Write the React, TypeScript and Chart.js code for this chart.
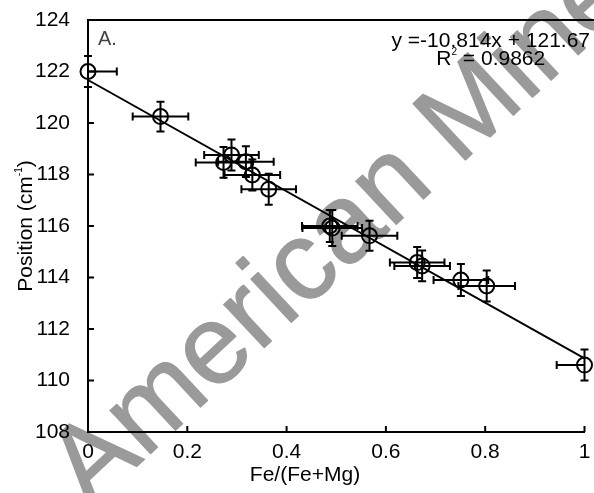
import React, { useEffect, useRef } from "react";
import { Chart, registerables } from "chart.js";

Chart.register(...registerables);

// Fe/(Fe+Mg) composition and band position (cm-1) with their uncertainties
const feRatio = [0, 0.146, 0.273, 0.289, 0.318, 0.331, 0.364, 0.487, 0.492, 0.567, 0.663, 0.673, 0.751, 0.803, 1.0];
const position = [122.0, 120.25, 118.47, 118.76, 118.5, 117.98, 117.43, 116.0, 115.92, 115.62, 114.58, 114.45, 113.9, 113.67, 110.6];
const feErr = [0.058, 0.056, 0.056, 0.055, 0.056, 0.056, 0.055, 0.056, 0.06, 0.056, 0.055, 0.056, 0.055, 0.057, 0.056];
const posErr = [0.6, 0.58, 0.6, 0.6, 0.6, 0.6, 0.6, 0.62, 0.7, 0.58, 0.6, 0.6, 0.62, 0.6, 0.6];

// Linear fit reported on the plot
const fitSlope = -10.814;
const fitIntercept = 121.67;
const fitR2 = "0.9862";

const xTicks = [0, 0.2, 0.4, 0.6, 0.8, 1];
const yTicks = [108, 110, 112, 114, 116, 118, 120, 122, 124];

const FONT = "'Liberation Sans', Arial, sans-serif";

const decorPlugin = {
  id: "decor",
  beforeDraw(chart: any) {
    const ctx = chart.ctx;
    ctx.save();
    ctx.fillStyle = "#ffffff";
    ctx.fillRect(0, 0, chart.width, chart.height);
    // publisher watermark running diagonally across the figure
    ctx.translate(90, 510);
    ctx.rotate((-43 * Math.PI) / 180);
    ctx.fillStyle = "#9a9a9a";
    ctx.strokeStyle = "#9a9a9a";
    ctx.lineWidth = 1.2;
    ctx.lineJoin = "round";
    ctx.font = `112px ${FONT}`;
    ctx.textBaseline = "alphabetic";
    ctx.textAlign = "left";
    ctx.fillText("American Mineralogist", 0, 0);
    ctx.strokeText("American Mineralogist", 0, 0);
    ctx.restore();
  },
  afterDatasetsDraw(chart: any) {
    const ctx = chart.ctx;
    const xs = chart.scales.x;
    const ys = chart.scales.y;
    const area = chart.chartArea;
    ctx.save();
    ctx.strokeStyle = "#000";
    ctx.lineWidth = 2;
    const cap = 4;
    for (let i = 0; i < feRatio.length; i++) {
      const cx = xs.getPixelForValue(feRatio[i]);
      const cy = ys.getPixelForValue(position[i]);
      const x0 = xs.getPixelForValue(feRatio[i] - feErr[i]);
      const x1 = xs.getPixelForValue(feRatio[i] + feErr[i]);
      const y0 = ys.getPixelForValue(position[i] - posErr[i]);
      const y1 = ys.getPixelForValue(position[i] + posErr[i]);
      // vertical bar
      ctx.beginPath();
      ctx.moveTo(cx, y0);
      ctx.lineTo(cx, y1);
      ctx.moveTo(cx - cap, y0);
      ctx.lineTo(cx + cap, y0);
      ctx.moveTo(cx - cap, y1);
      ctx.lineTo(cx + cap, y1);
      ctx.stroke();
      // horizontal bar, kept inside the plot width
      ctx.save();
      ctx.beginPath();
      ctx.rect(area.left, 0, area.right - area.left, chart.height);
      ctx.clip();
      ctx.beginPath();
      ctx.moveTo(x0, cy);
      ctx.lineTo(x1, cy);
      ctx.moveTo(x0, cy - cap);
      ctx.lineTo(x0, cy + cap);
      ctx.moveTo(x1, cy - cap);
      ctx.lineTo(x1, cy + cap);
      ctx.stroke();
      ctx.restore();
    }
    ctx.restore();
  },
  afterDraw(chart: any) {
    const ctx = chart.ctx;
    const xs = chart.scales.x;
    const ys = chart.scales.y;
    const area = chart.chartArea;
    ctx.save();
    ctx.strokeStyle = "#000";
    ctx.lineWidth = 2;
    // inward tick marks
    ctx.beginPath();
    for (const v of xTicks) {
      const px = xs.getPixelForValue(v);
      ctx.moveTo(px, area.bottom);
      ctx.lineTo(px, area.bottom - 6);
    }
    for (const v of yTicks) {
      const py = ys.getPixelForValue(v);
      ctx.moveTo(area.left, py);
      ctx.lineTo(area.left + 6, py);
    }
    // top frame line
    ctx.moveTo(area.left - 1, area.top);
    ctx.lineTo(chart.width, area.top);
    ctx.stroke();

    // panel letter
    ctx.fillStyle = "#444";
    ctx.font = `20px ${FONT}`;
    ctx.textAlign = "left";
    ctx.textBaseline = "alphabetic";
    ctx.fillText("A.", 98, 45);

    // fit equation and R²
    ctx.fillStyle = "#000";
    ctx.font = `21px ${FONT}`;
    const eq = `y =${fitSlope}x + ${fitIntercept}`;
    const eqW = ctx.measureText(eq).width;
    const eqRight = 590;
    ctx.fillText(eq, eqRight - eqW, 47);
    const eqCenter = eqRight - eqW / 2;
    const rA = "R";
    const rB = ` = ${fitR2}`;
    const wA = ctx.measureText(rA).width;
    const wB = ctx.measureText(rB).width;
    ctx.font = `10px ${FONT}`;
    const wS = ctx.measureText("2").width;
    const total = wA + wS + wB;
    let sx = eqCenter - total / 2;
    ctx.font = `21px ${FONT}`;
    ctx.fillText(rA, sx, 65);
    sx += wA;
    ctx.font = `10px ${FONT}`;
    ctx.fillText("2", sx, 55);
    sx += wS;
    ctx.font = `21px ${FONT}`;
    ctx.fillText(rB, sx, 65);

    // x-axis title
    ctx.font = `21px ${FONT}`;
    ctx.textAlign = "center";
    ctx.fillText("Fe/(Fe+Mg)", 305, 481);

    // y-axis title with superscript unit
    ctx.translate(32, (area.top + area.bottom) / 2);
    ctx.rotate(-Math.PI / 2);
    ctx.textAlign = "left";
    const t1 = "Position (cm";
    const t2 = "-1";
    const t3 = ")";
    ctx.font = `21px ${FONT}`;
    const w1 = ctx.measureText(t1).width;
    const w3 = ctx.measureText(t3).width;
    ctx.font = `10px ${FONT}`;
    const w2 = ctx.measureText(t2).width;
    let tx = -(w1 + w2 + w3) / 2;
    ctx.font = `21px ${FONT}`;
    ctx.fillText(t1, tx, 0);
    tx += w1;
    ctx.font = `10px ${FONT}`;
    ctx.fillText(t2, tx, -10);
    tx += w2;
    ctx.font = `21px ${FONT}`;
    ctx.fillText(t3, tx, 0);
    ctx.restore();
  },
};

export default function App() {
  const canvasRef = useRef<HTMLCanvasElement | null>(null);

  useEffect(() => {
    if (!canvasRef.current) return;
    const points = feRatio.map((x, i) => ({ x, y: position[i] }));
    const fitLine = [
      { x: 0, y: fitIntercept },
      { x: 1, y: fitIntercept + fitSlope },
    ];
    const chart = new Chart(canvasRef.current, {
      type: "scatter",
      data: {
        datasets: [
          {
            type: "line",
            data: fitLine,
            borderColor: "#000",
            borderWidth: 2,
            pointRadius: 0,
            fill: false,
            order: 2,
            clip: false,
          } as any,
          {
            data: points,
            pointStyle: "circle",
            pointRadius: 7.5,
            pointBorderWidth: 2,
            borderColor: "#000",
            backgroundColor: "rgba(0,0,0,0)",
            order: 1,
            clip: false,
          } as any,
        ],
      },
      options: {
        animation: false,
        responsive: true,
        maintainAspectRatio: false,
        layout: { padding: { top: 20, right: 7, left: 0, bottom: 0 } },
        plugins: {
          legend: { display: false },
          tooltip: { enabled: false },
        },
        scales: {
          x: {
            type: "linear",
            min: 0,
            max: 1,
            afterFit: (s: any) => {
              s.height = 61;
              s.paddingLeft = 0;
              s.paddingRight = 0;
            },
            afterBuildTicks: (s: any) => {
              s.ticks = xTicks.map((v) => ({ value: v }));
            },
            grid: { display: false },
            border: { display: true, color: "#000", width: 2 },
            ticks: {
              color: "#000",
              font: { family: FONT, size: 21 },
              padding: 0,
              maxRotation: 0,
              callback: (v: any) => String(Number(v)),
            },
          },
          y: {
            type: "linear",
            min: 108,
            max: 124,
            afterFit: (s: any) => {
              s.width = 88;
              s.paddingTop = 0;
              s.paddingBottom = 0;
            },
            afterBuildTicks: (s: any) => {
              s.ticks = yTicks.map((v) => ({ value: v }));
            },
            grid: { display: false },
            border: { display: true, color: "#000", width: 2 },
            ticks: {
              color: "#000",
              font: { family: FONT, size: 21 },
              padding: 10,
              callback: (v: any) => String(v),
            },
          },
        },
      },
      plugins: [decorPlugin],
    });
    return () => chart.destroy();
  }, []);

  return (
    <div style={{ position: "absolute", left: 0, top: 0, width: 594, height: 493 }}>
      <canvas ref={canvasRef} />
    </div>
  );
}
